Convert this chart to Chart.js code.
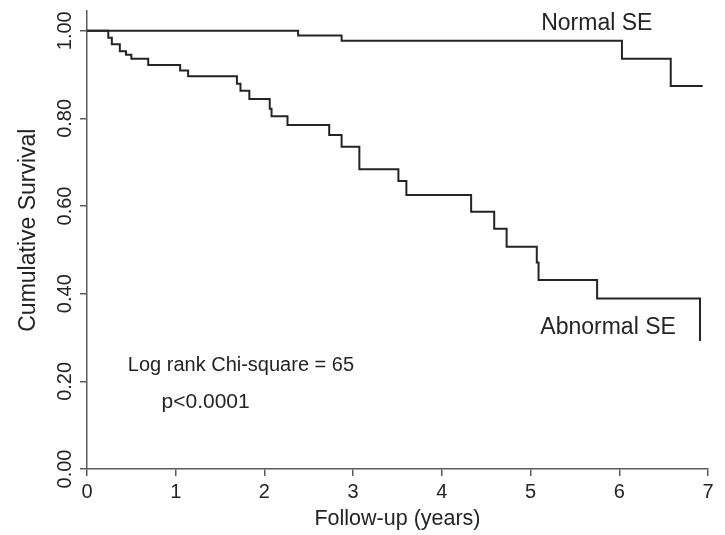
<!DOCTYPE html>
<html>
<head>
<meta charset="utf-8">
<script src="https://cdn.jsdelivr.net/npm/chart.js@4.4.1/dist/chart.umd.min.js"></script>
<style>
  html, body { margin: 0; padding: 0; background: #ffffff; }
  #wrap { width: 725px; height: 535px; }
</style>
</head>
<body>
<div id="wrap"><canvas id="km" width="725" height="535"></canvas></div>
<script>
// Kaplan-Meier estimates: event times (years) and survival after each step
const normalTimes    = [0, 2.38, 2.87, 6.03, 6.58, 6.94];
const normalSurvival = [1.0, 0.989, 0.977, 0.936, 0.874, 0.874];

const abnormalTimes    = [0, 0.24, 0.28, 0.37, 0.44, 0.50, 0.69, 1.05, 1.14, 1.69, 1.73, 1.83,
                          2.06, 2.08, 2.26, 2.73, 2.87, 3.07, 3.51, 3.60, 4.33, 4.59, 4.73,
                          5.07, 5.09, 5.75, 6.91];
const abnormalSurvival = [1.0, 0.984, 0.969, 0.953, 0.945, 0.936, 0.922, 0.909, 0.896, 0.879, 0.863, 0.844,
                          0.822, 0.805, 0.785, 0.762, 0.735, 0.684, 0.657, 0.625, 0.587, 0.548, 0.507,
                          0.471, 0.431, 0.389, 0.292];

const yTickValues = [0, 0.2, 0.4, 0.6, 0.8, 1.0];
const xTickValues = [0, 1, 2, 3, 4, 5, 6, 7];

const seriesLabels = ['Normal SE', 'Abnormal SE'];
const statText = ['Log rank Chi-square = 65', 'p<0.0001'];
const yTitle = 'Cumulative Survival';
const xTitle = 'Follow-up (years)';

const FONT = '"Liberation Sans", Arial, sans-serif';
const INK = '#242424';
const AXIS = '#5a5a5a';

function toPoints(ts, vs) {
  return ts.map((t, i) => ({ x: t, y: vs[i] }));
}

// Curve labels, test statistic and the vertical axis title
const annotations = {
  id: 'kmAnnotations',
  afterDatasetsDraw(chart) {
    const { ctx, scales: { x, y } } = chart;
    const items = [
      { text: seriesLabels[0], t: 5.12, v: 1.016, size: 23 },
      { text: seriesLabels[1], t: 5.11, v: 0.322, size: 23 },
      { text: statText[0],     t: 0.46, v: 0.236, size: 20 },
      { text: statText[1],     t: 0.84, v: 0.153, size: 21 }
    ];
    ctx.save();
    ctx.fillStyle = INK;
    ctx.textAlign = 'left';
    ctx.textBaseline = 'middle';
    items.forEach(it => {
      ctx.font = it.size + 'px ' + FONT;
      ctx.fillText(it.text, x.getPixelForValue(it.t), y.getPixelForValue(it.v));
    });
    // vertical axis title, read bottom to top
    ctx.font = '23px ' + FONT;
    ctx.textAlign = 'center';
    ctx.translate(y.left + 29, y.getPixelForValue(0.545));
    ctx.rotate(-Math.PI / 2);
    ctx.fillText(yTitle, 0, 0);
    ctx.restore();
  }
};

new Chart(document.getElementById('km'), {
  type: 'line',
  data: {
    datasets: [
      {
        label: seriesLabels[0],
        data: toPoints(normalTimes, normalSurvival),
        stepped: 'before',
        borderColor: INK,
        borderWidth: 2,
        pointRadius: 0,
        fill: false
      },
      {
        label: seriesLabels[1],
        data: toPoints(abnormalTimes, abnormalSurvival),
        stepped: 'before',
        borderColor: INK,
        borderWidth: 2,
        pointRadius: 0,
        fill: false
      }
    ]
  },
  options: {
    responsive: false,
    devicePixelRatio: 1,
    animation: false,
    layout: { padding: { left: 0, right: 17, top: 11, bottom: 0 } },
    plugins: {
      legend: { display: false },
      tooltip: { enabled: false }
    },
    scales: {
      x: {
        type: 'linear',
        min: 0,
        max: 7,
        afterBuildTicks(scale) { scale.ticks = xTickValues.map(v => ({ value: v })); },
        afterFit(scale) { scale.height = 66; },
        border: { display: true, color: AXIS, width: 1.5 },
        grid: { drawOnChartArea: false, drawTicks: true, tickLength: 7, color: AXIS, lineWidth: 1.5 },
        ticks: {
          padding: 4,
          color: INK,
          font: { family: FONT, size: 20 },
          callback: v => String(v)
        },
        title: {
          display: true,
          text: xTitle,
          color: INK,
          font: { family: FONT, size: 21.5 },
          padding: { top: 0, bottom: 3 }
        }
      },
      y: {
        type: 'linear',
        min: 0,
        max: 1.045,
        afterBuildTicks(scale) { scale.ticks = yTickValues.map(v => ({ value: v })); },
        afterFit(scale) { scale.width = 87; },
        border: { display: true, color: AXIS, width: 1.5 },
        grid: { drawOnChartArea: false, drawTicks: true, tickLength: 7, color: AXIS, lineWidth: 1.5 },
        ticks: {
          minRotation: 90,
          maxRotation: 90,
          crossAlign: 'center',
          padding: -5,
          color: INK,
          font: { family: FONT, size: 20 },
          callback: v => Number(v).toFixed(2)
        },
        title: { display: false }
      }
    }
  },
  plugins: [annotations]
});
</script>
</body>
</html>
